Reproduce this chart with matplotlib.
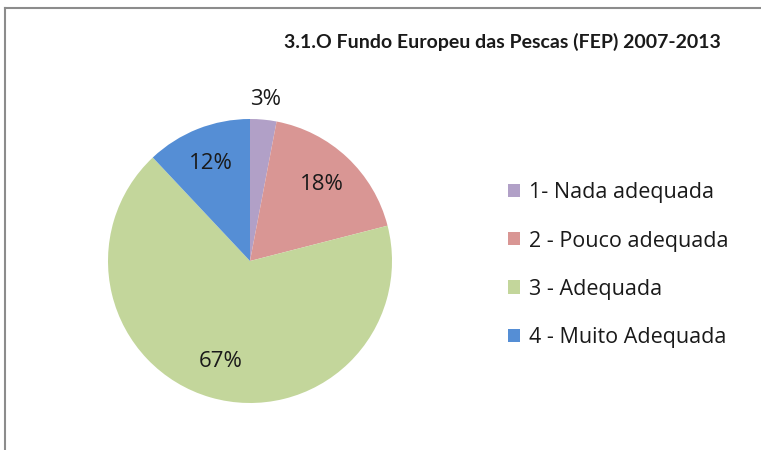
import matplotlib.pyplot as plt
import numpy as np
from matplotlib.patches import Patch
from matplotlib.lines import Line2D

plt.rcParams['font.family'] = ['Open Sans', 'DejaVu Sans']

# === data ===
labels = ['1- Nada adequada', '2 - Pouco adequada', '3 - Adequada', '4 - Muito Adequada']
values = [3, 18, 67, 12]
colors = ['#B1A0C7', '#D99694', '#C3D69B', '#558ED5']
title = '3.1.O Fundo Europeu das Pescas (FEP) 2007-2013'

W, H = 761, 450
fig = plt.figure(figsize=(W / 100, H / 100), dpi=100)

# pie area: centre (250, 261) px, radius 142 px
cx, cy, r = 250, 261, 142
ax = fig.add_axes([(cx - r) / W, (H - cy - r) / H, 2 * r / W, 2 * r / H])
wedges, texts, autotexts = ax.pie(values, colors=colors, startangle=90, counterclock=False,
                                  autopct='%d%%', pctdistance=0.74,
                                  textprops={'fontsize': 16, 'color': '#1a1a1a'},
                                  wedgeprops={'linewidth': 0})
ax.set_xlim(-1, 1)
ax.set_ylim(-1, 1)
ax.set_aspect('auto')

# the small slice label sits outside the pie
w0 = wedges[0]
mid = np.deg2rad((w0.theta1 + w0.theta2) / 2)
autotexts[0].set_position((1.14 * np.cos(mid), 1.14 * np.sin(mid)))

fig.text(502 / W, 1 - 42 / H, title, ha='center', va='center', fontsize=14, fontweight='bold',
         color='#1a1a1a', family=['Lato', 'DejaVu Sans'])

handles = [Patch(facecolor=c, edgecolor='none') for c in colors]
fig.legend(handles, labels, loc='upper left', bbox_to_anchor=(489 / W, 1 - 163 / H),
           frameon=False, fontsize=15.5, handlelength=0.56, handleheight=0.56,
           handletextpad=0.4, labelspacing=1.26, labelcolor='#1a1a1a')

# outer chart frame (only top and left edges visible)
fig.add_artist(Line2D([5 / W, 5 / W], [0, 1 - 8 / H], transform=fig.transFigure,
                      color='#8c8c8c', linewidth=1.5))
fig.add_artist(Line2D([5 / W, 1], [1 - 8 / H, 1 - 8 / H], transform=fig.transFigure,
                      color='#8c8c8c', linewidth=1.5))

fig.savefig('out.png', dpi=100)
